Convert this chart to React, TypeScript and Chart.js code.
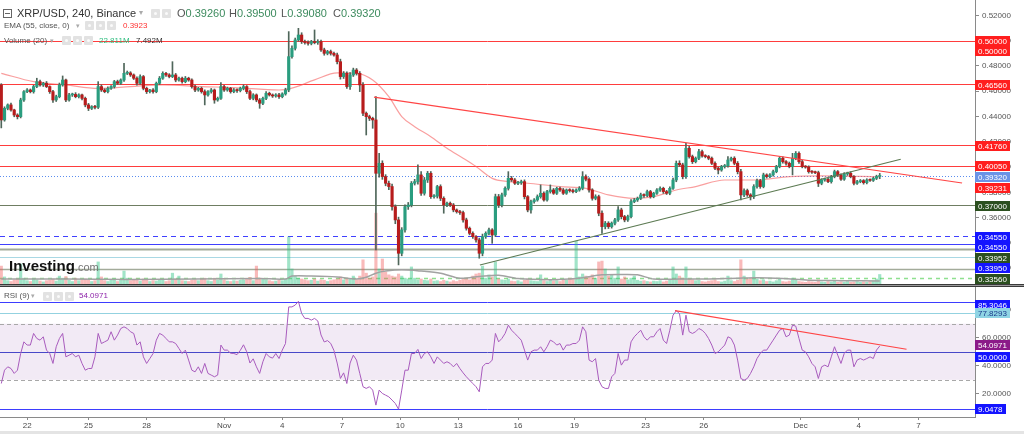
import React, { useEffect, useRef } from 'react';
import { Chart, registerables } from 'chart.js';

Chart.register(...registerables);

const FONT = 'Arial, "Liberation Sans", Helvetica, sans-serif';

// ---------------- data (prices in 1/10000 USD, 4h candles) ----------------
const FIRST_OPEN = 4650;
const closes = [
  4373,4465,4492,4452,4412,4399,4531,4597,4610,4597,
  4637,4676,4650,4663,4637,4597,4531,4557,4650,4689,
  4531,4571,4575,4557,4571,4544,4492,4465,4478,4473,
  4637,4610,4597,4623,4637,4676,4663,4689,4742,4745,
  4729,4703,4663,4716,4623,4597,4610,4597,4663,4703,
  4742,4729,4716,4729,4689,4703,4676,4703,4689,4637,
  4610,4623,4597,4571,4597,4610,4531,4544,4637,4610,
  4623,4597,4610,4605,4623,4637,4597,4544,4571,4531,
  4505,4544,4584,4571,4563,4571,4557,4579,4610,4874,
  4940,5006,5045,4993,4985,4979,4993,4985,4993,4927,
  4900,4914,4900,4887,4834,4716,4742,4637,4729,4768,
  4742,4650,4426,4399,4386,4373,3951,4030,3925,3872,
  3846,3687,3582,3318,3503,3687,3700,3872,3885,3938,
  3793,3898,3951,3766,3770,3846,3753,3700,3714,3700,
  3661,3648,3640,3582,3516,3476,3450,3424,3318,3450,
  3476,3503,3463,3766,3700,3780,3832,3911,3898,3872,
  3877,3885,3766,3661,3727,3740,3766,3793,3740,3806,
  3819,3793,3832,3819,3793,3819,3814,3806,3819,3832,
  3925,3904,3819,3753,3766,3635,3529,3556,3529,3556,
  3582,3661,3608,3582,3608,3727,3740,3753,3780,3775,
  3806,3766,3793,3819,3832,3806,3793,3832,3898,4030,
  4017,3925,4149,4083,4043,4070,4122,4088,4083,4070,
  4030,3991,3977,4004,4009,4056,4070,4030,3964,3780,
  3814,3780,3766,3846,3893,3846,3938,3925,3938,3964,
  4004,4070,4043,4030,4004,4070,4109,4043,4004,4000,
  3964,3960,3956,3872,3898,3904,3885,3925,3964,3938,
  3904,3946,3951,3925,3872,3885,3893,3877,3898,3895,
  3911,3926,3932,
];
const wickUp = [
  10,12,8,15,6,10,14,9,12,8,
  10,27,12,8,14,6,10,12,15,32,
  8,12,10,14,9,7,10,12,8,10,
  39,14,10,12,8,10,12,9,79,15,
  10,8,12,14,9,10,6,12,10,14,
  12,8,10,105,12,9,10,14,8,10,
  12,8,10,14,9,12,8,10,31,9,
  10,8,12,9,10,14,8,12,10,8,
  12,10,14,9,8,10,12,9,14,198,
  20,15,53,18,12,14,10,92,15,12,
  14,10,12,9,15,20,14,12,18,15,
  12,14,18,10,12,9,184,79,20,15,
  18,20,14,22,18,15,20,14,18,79,
  26,20,15,14,12,10,14,12,9,10,
  12,8,10,12,14,10,12,9,14,20,
  12,14,10,20,18,14,12,53,15,12,
  10,12,14,9,12,10,14,66,12,10,
  40,12,9,10,12,8,10,12,9,14,
  39,14,12,10,15,12,18,14,12,10,
  12,26,14,10,12,15,12,10,14,9,
  12,10,8,10,12,9,10,12,15,18,
  20,14,39,15,12,10,19,12,10,9,
  10,12,8,10,12,27,10,12,14,18,
  14,12,10,15,12,10,14,9,10,12,
  10,13,12,9,10,39,14,12,10,8,
  10,9,8,12,10,9,8,10,12,9,
  8,10,9,12,8,10,9,8,10,9,
  8,10,18,
];
const wickDn = [
  63,10,12,9,14,18,10,12,8,10,
  12,9,10,12,8,14,20,12,9,10,
  14,10,12,9,10,12,15,18,10,12,
  10,12,9,10,8,12,10,9,12,10,
  12,10,14,9,12,15,10,12,9,10,
  9,12,10,8,14,10,12,9,10,12,
  14,10,12,79,10,12,26,10,9,12,
  10,12,9,14,10,12,15,10,12,14,
  40,12,10,9,12,10,14,9,10,14,
  12,14,10,15,12,14,12,10,14,12,
  15,12,14,10,18,20,15,14,22,12,
  14,53,20,145,18,66,607,30,22,20,
  25,28,30,92,20,18,22,15,14,20,
  18,15,20,14,12,15,18,65,14,12,
  15,12,14,18,15,12,14,18,39,20,
  14,12,66,12,20,15,12,14,12,10,
  12,14,18,15,26,12,10,12,9,10,
  12,9,10,12,10,9,12,10,8,10,
  12,14,18,15,12,20,53,18,15,12,
  14,12,18,15,12,10,9,12,10,14,
  10,12,9,10,12,14,10,12,9,14,
  12,18,14,12,15,10,12,9,10,12,
  10,12,31,10,12,9,10,12,18,40,
  14,12,26,15,12,14,10,12,9,10,
  9,10,12,14,10,66,12,14,10,9,
  12,10,9,26,12,10,9,12,10,12,
  10,9,12,10,14,10,9,12,10,8,
  9,10,18,
];
// volume, millions
const volumes = [
  43,17,8,6,10,12,48,14,8,6,
  12,10,7,5,8,9,12,7,19,14,
  18,9,6,14,8,10,12,9,6,8,
  53,17,8,6,10,12,6,9,31,14,
  8,10,12,7,12,9,6,8,7,10,
  9,6,8,26,12,19,8,7,6,9,
  10,8,12,14,8,6,14,9,24,10,
  7,6,8,7,9,10,12,16,8,43,
  14,12,10,8,6,7,9,8,12,113,
  36,19,14,12,10,8,9,12,7,10,
  9,6,8,10,12,17,10,14,12,19,
  10,19,58,26,14,17,170,36,60,29,
  22,19,17,24,19,14,12,41,14,10,
  12,9,8,12,7,8,6,9,7,5,
  8,6,9,12,14,10,19,24,26,43,
  14,22,17,53,12,10,9,12,7,6,
  8,5,9,12,8,7,6,22,8,6,
  9,7,8,6,10,9,14,12,103,17,
  24,19,17,22,14,53,55,36,19,22,
  14,41,12,17,10,14,19,9,7,8,
  6,5,7,6,8,5,7,9,41,24,
  19,14,41,12,10,8,9,6,5,7,
  8,10,6,5,7,19,8,6,9,58,
  19,12,14,31,12,8,10,6,7,5,
  8,12,6,5,7,14,9,6,5,4,
  6,5,4,10,5,4,6,5,7,4,
  5,4,6,4,5,6,4,5,4,6,
  7,12,22.8,
];
// [candle index, value]
const volumeMA = [
  [0,12],[20,12],[40,11],[60,12],[80,13],[88,12],[90,19],[96,19],[104,17],[110,12],
  [113,16],[116,26],[119,31],[124,34],[130,31],[136,26],[142,14],[148,18],[154,21],[160,13],
  [170,10],[176,12],[180,15],[186,22],[192,23],[197,22],[202,12],[210,12],[218,12],[228,14],
  [234,15],[242,13],[250,9],[260,8],[272,7.5],
];
const ema55 = [
  [0,4742],[10,4676],[20,4650],[30,4623],[40,4637],[50,4650],[62,4637],[72,4629],[86,4610],[90,4625],
  [97,4690],[104,4745],[110,4742],[115,4689],[120,4557],[124,4400],[128,4320],[133,4241],[138,4149],[143,4070],
  [147,4004],[152,3911],[157,3885],[163,3872],[173,3846],[181,3832],[188,3780],[196,3753],[202,3766],[209,3819],
  [215,3846],[224,3898],[234,3898],[244,3925],[254,3930],[272,3923],
];
const rsi9 = [
  27.4,36.9,39.3,38.1,34.6,36.9,48.8,57.1,54.8,54.8,
  63.1,59.5,58.3,60.7,51.2,48.8,41.7,53.6,59.5,63.1,
  46.4,47.6,48.8,46.4,47.6,41.7,36.9,38.1,38.1,46.4,
  63.1,55.9,57.1,58.3,64.3,58.3,61.9,66.6,67.8,66.6,
  64.3,63.1,54.8,57.1,46.4,41.7,45.2,48.8,58.3,63.1,
  61.9,59.5,57.1,57.1,55.9,52.4,48.8,51.2,44.1,36.9,
  35.7,39.3,34.6,41.7,34.6,33.4,32.2,33.4,54.8,51.2,
  51.2,49.0,48.8,48.0,51.0,55.0,50.0,42.0,45.0,39.3,
  34.6,42.9,48.8,46.4,45.5,48.8,45.2,51.2,55.9,82.0,
  82.0,83.3,86.0,77.3,73.8,73.8,72.6,73.8,72.0,62.0,
  57.0,58.0,56.0,51.0,42.0,31.0,35.0,27.4,42.0,47.6,
  44.1,34.6,25.1,23.9,25.1,22.7,12.0,22.7,20.3,19.1,
  17.9,15.6,13.2,9.1,22.7,36.9,36.9,48.8,48.8,51.7,
  45.2,48.8,50.0,46.4,41.7,46.4,44.1,41.7,42.9,41.7,
  39.3,41.7,38.1,35.0,32.2,29.8,27.4,25.1,21.5,39.3,
  41.7,41.7,44.1,63.1,57.1,59.5,63.1,69.0,65.4,63.1,
  60.7,58.3,51.2,44.1,50.0,51.2,51.2,53.6,50.0,53.6,
  58.3,57.1,54.8,55.9,51.2,54.8,54.8,55.9,55.9,58.3,
  67.8,64.3,44.1,42.9,45.2,29.8,25.1,23.9,23.9,32.2,
  34.6,48.8,40.5,44.1,44.1,57.1,60.7,63.1,65.4,60.7,
  58.3,60.7,60.7,64.3,66.6,58.3,55.9,65.4,76.1,79.2,
  77.3,61.9,76.1,64.3,63.1,64.3,66.6,65.4,63.1,59.5,
  54.8,48.8,50.0,52.4,54.8,60.7,59.5,54.8,44.1,31.0,
  29.8,31.0,34.6,39.3,45.2,48.8,51.2,51.2,54.8,58.3,
  61.9,65.4,66.6,60.7,61.9,69.0,68.3,59.5,51.2,50.0,
  46.4,41.7,39.3,31.0,39.3,40.5,39.3,46.4,53.6,47.6,
  41.7,48.8,51.2,51.2,39.3,44.1,45.2,44.1,45.2,46.4,
  45.2,51.2,54.1,
];

const priceTicks = [0.52, 0.5, 0.48, 0.46, 0.44, 0.42, 0.4, 0.38, 0.36, 0.34, 0.32];
const rsiTicks = [20, 40, 60, 80];
const dateTickIdx = [8, 27, 45, 69, 87, 105.5, 123.5, 141.5, 160, 177.5, 199.5, 217.5, 247.5, 265.5, 284];
const dateTickLabels = ['22', '25', '28', 'Nov', '4', '7', '10', '13', '16', '19', '23', '26', 'Dec', '4', '7'];

const resistanceLine = [[115.4, 0.4554], [297.5, 0.3874]];
const supportLine = [[148.2, 0.3225], [278.5, 0.4062]];
const rsiTrendLine = [[208.6, 79.3], [280.3, 51.8]];

const priceLevels = [
  { v: 0.5, c: '#ff3d3d', w: 1, d: [] as number[] },
  { v: 0.4656, c: '#ff3d3d', w: 1, d: [] },
  { v: 0.4176, c: '#ff3d3d', w: 1, d: [] },
  { v: 0.4005, c: '#ff3d3d', w: 1, d: [] },
  { v: 0.3932, c: '#5b8def', w: 1, d: [1, 2] },
  { v: 0.37, c: '#6f7d62', w: 1, d: [] },
  { v: 0.3455, c: '#4040ff', w: 1, d: [5, 4] },
  { v: 0.3391, c: '#4040ff', w: 1, d: [] },
  { v: 0.3352, c: '#a3ab9a', w: 2, d: [] },
  { v: 0.3289, c: '#a9d8e4', w: 1, d: [] },
  { v: 0.3194, c: '#a3ab9a', w: 1.5, d: [] },
  { v: 0.3125, c: '#8fe08f', w: 1.5, d: [4, 4] },
];
const priceTags = [
  { t: '0.50000', at: 0.5, bg: '#ff1e1e', fg: '#fff' },
  { t: '0.50000', at: 0.4917, bg: '#ff1e1e', fg: '#fff' },
  { t: '0.46560', at: 0.4652, bg: '#ff1e1e', fg: '#fff' },
  { t: '0.41760', at: 0.4168, bg: '#ff1e1e', fg: '#fff' },
  { t: '0.40050', at: 0.4005, bg: '#ff1e1e', fg: '#fff' },
  { t: '0.39320', at: 0.3918, bg: '#6a93e6', fg: '#fff' },
  { t: '0.39231', at: 0.3831, bg: '#ff1e1e', fg: '#fff' },
  { t: '0.37000', at: 0.3694, bg: '#2b4f1f', fg: '#fff' },
  { t: '0.34550', at: 0.3447, bg: '#1414ff', fg: '#fff' },
  { t: '0.34550', at: 0.3365, bg: '#1414ff', fg: '#fff' },
  { t: '0.33952', at: 0.3281, bg: '#2b4f1f', fg: '#fff' },
  { t: '0.33950', at: 0.32, bg: '#1414ff', fg: '#fff' },
  { t: '0.33560', at: 0.3116, bg: '#2b4f1f', fg: '#fff' },
];
const rsiLevels = [
  { v: 85.3046, c: '#3d3dff', w: 1, d: [] as number[] },
  { v: 77.8293, c: '#93d2e0', w: 1, d: [] },
  { v: 70, c: '#a8a8a8', w: 1, d: [4, 3] },
  { v: 30, c: '#a8a8a8', w: 1, d: [4, 3] },
  { v: 50, c: '#4848c8', w: 1, d: [] },
  { v: 9.0478, c: '#3d3dff', w: 1, d: [] },
];
const rsiTags = [
  { t: '85.3046', at: 83.6, bg: '#1414ff', fg: '#fff' },
  { t: '77.8293', at: 77.8, bg: '#8fd4e4', fg: '#1a3a8a' },
  { t: '54.0971', at: 54.7, bg: '#8b1a89', fg: '#fff' },
  { t: '50.0000', at: 46.3, bg: '#1414ff', fg: '#fff' },
  { t: '9.0478', at: 9.1, bg: '#1414ff', fg: '#fff' },
];

// ---------------- layout constants ----------------
const X_MIN = -0.4;
const X_MAX = 301.5;
const P_MIN = 0.3075;
const P_MAX = 0.5322;
const RSI_MIN = 3.53;
const RSI_MAX = 96.19;
const VOL_MAX = 681.6;
const AXIS_W = 49;
const GREEN = '#2a9d7f';
const RED = '#b71c1c';
const WICK = '#4f665a';

function levelsPlugin(levels: any[], band?: [number, number]) {
  return {
    id: 'levels',
    beforeDatasetsDraw(chart: any) {
      const { ctx, chartArea, scales } = chart;
      const y = scales.y;
      ctx.save();
      if (band) {
        const y1 = y.getPixelForValue(band[0]);
        const y2 = y.getPixelForValue(band[1]);
        ctx.fillStyle = 'rgba(156, 90, 180, 0.13)';
        ctx.fillRect(chartArea.left, y1, chartArea.right - chartArea.left, y2 - y1);
      }
      for (const l of levels) {
        const py = Math.round(y.getPixelForValue(l.v)) + 0.5;
        ctx.strokeStyle = l.c;
        ctx.lineWidth = l.w;
        ctx.setLineDash(l.d);
        ctx.beginPath();
        ctx.moveTo(chartArea.left, py);
        ctx.lineTo(chartArea.right, py);
        ctx.stroke();
      }
      ctx.restore();
    },
  };
}

function tagsPlugin(tags: any[], extra?: (chart: any) => void) {
  return {
    id: 'tags',
    afterDraw(chart: any) {
      const { ctx, chartArea, scales } = chart;
      const y = scales.y;
      ctx.save();
      ctx.font = `8px ${FONT}`;
      ctx.textBaseline = 'middle';
      ctx.textAlign = 'left';
      for (const t of tags) {
        const py = Math.round(y.getPixelForValue(t.at));
        const w = Math.ceil(ctx.measureText(t.t).width) + 6;
        ctx.fillStyle = t.bg;
        ctx.fillRect(chartArea.right, py - 5, w, 10);
        ctx.fillStyle = t.fg;
        ctx.fillText(t.t, chartArea.right + 3, py + 0.5);
      }
      if (extra) extra(chart);
      ctx.restore();
    },
  };
}

function Icons({ left, top, n }: { left: number; top: number; n: number }) {
  const items = [];
  for (let k = 0; k < n; k++) {
    items.push(
      <div
        key={k}
        style={{
          position: 'absolute',
          left: left + k * 11,
          top,
          width: 9,
          height: 9,
          background: '#e2e2e2',
          borderRadius: 1,
        }}
      >
        <div style={{ position: 'absolute', left: 3, top: 3, width: 3, height: 3, background: '#fafafa', borderRadius: 2 }} />
      </div>
    );
  }
  return <>{items}</>;
}

function Txt({ left, top, size, color, children, weight }: any) {
  return (
    <div
      style={{
        position: 'absolute',
        left,
        top,
        fontSize: size,
        lineHeight: `${size}px`,
        color,
        fontWeight: weight || 'normal',
        whiteSpace: 'nowrap',
        fontFamily: FONT,
      }}
    >
      {children}
    </div>
  );
}

export default function App() {
  const mainRef = useRef<HTMLCanvasElement>(null);
  const rsiRef = useRef<HTMLCanvasElement>(null);

  useEffect(() => {
    Chart.defaults.font.family = FONT;
    const opens = closes.map((c, i) => (i === 0 ? FIRST_OPEN : closes[i - 1]));
    const bodies = closes.map((c, i) => ({ x: i, y: [opens[i] / 1e4, c / 1e4] }));
    const wicks = closes.map((c, i) => ({
      x: i,
      y: [(Math.min(opens[i], c) - wickDn[i]) / 1e4, (Math.max(opens[i], c) + wickUp[i]) / 1e4],
    }));
    const upDown = closes.map((c, i) => c >= opens[i]);
    const vols = volumes.map((v, i) => ({ x: i, y: v }));

    const main = new Chart(mainRef.current as HTMLCanvasElement, {
      type: 'bar',
      data: {
        datasets: [
          {
            type: 'bar',
            data: vols as any,
            yAxisID: 'yVol',
            grouped: false,
            barThickness: 2.5,
            backgroundColor: upDown.map((u) => (u ? 'rgba(46,196,132,0.45)' : 'rgba(240,90,90,0.42)')),
            order: 10,
          } as any,
          {
            type: 'line',
            data: volumeMA.map(([x, y]) => ({ x, y })),
            yAxisID: 'yVol',
            borderColor: '#a2a2a2',
            borderWidth: 1.5,
            pointRadius: 0,
            tension: 0.3,
            order: 9,
          },
          {
            type: 'line',
            data: ema55.map(([x, y]) => ({ x, y: y / 1e4 })),
            yAxisID: 'y',
            borderColor: 'rgba(245,95,95,0.6)',
            borderWidth: 1.2,
            pointRadius: 0,
            cubicInterpolationMode: 'monotone',
            order: 8,
          },
          {
            type: 'bar',
            data: wicks as any,
            yAxisID: 'y',
            grouped: false,
            barThickness: 1,
            backgroundColor: WICK,
            order: 6,
          } as any,
          {
            type: 'bar',
            data: bodies as any,
            yAxisID: 'y',
            grouped: false,
            barThickness: 2.5,
            minBarLength: 1,
            backgroundColor: upDown.map((u) => (u ? GREEN : RED)),
            order: 5,
          } as any,
          {
            type: 'line',
            data: resistanceLine.map(([x, y]) => ({ x, y })),
            yAxisID: 'y',
            borderColor: '#ff4545',
            borderWidth: 1.2,
            pointRadius: 0,
            order: 1,
          },
          {
            type: 'line',
            data: supportLine.map(([x, y]) => ({ x, y })),
            yAxisID: 'y',
            borderColor: '#5c7a52',
            borderWidth: 1.2,
            pointRadius: 0,
            order: 1,
          },
        ],
      },
      options: {
        animation: false,
        responsive: false,
        maintainAspectRatio: false,
        events: [],
        layout: { padding: { left: 0, right: 0, top: 0, bottom: 3 } },
        plugins: { legend: { display: false }, tooltip: { enabled: false } },
        scales: {
          x: { type: 'linear', min: X_MIN, max: X_MAX, display: false, offset: false, grid: { offset: false } },
          y: {
            type: 'linear',
            position: 'right',
            min: P_MIN,
            max: P_MAX,
            afterBuildTicks: (s: any) => {
              s.ticks = priceTicks.map((v) => ({ value: v }));
            },
            afterFit: (s: any) => {
              s.width = AXIS_W;
              s.paddingTop = 0;
              s.paddingBottom = 0;
            },
            ticks: {
              font: { size: 8, family: FONT },
              color: '#555',
              padding: 3,
              callback: (v: any) => Number(v).toFixed(5),
            },
            grid: { drawOnChartArea: false, tickLength: 4, color: '#8a8a8a' },
            border: { color: '#8a8a8a' },
          },
          yVol: { type: 'linear', display: false, min: 0, max: VOL_MAX },
        } as any,
      },
      plugins: [
        levelsPlugin(priceLevels),
        tagsPlugin(priceTags, (chart: any) => {
          const { ctx, width } = chart;
          ctx.fillStyle = '#3a3a3a';
          ctx.fillRect(0, 284, width, 1);
          ctx.fillStyle = '#9a9a9a';
          ctx.fillRect(0, 285, width, 1);
          ctx.fillStyle = '#3a3a3a';
          ctx.fillRect(0, 286, width, 1);
        }),
      ],
    });

    const rsiChart = new Chart(rsiRef.current as HTMLCanvasElement, {
      type: 'line',
      data: {
        datasets: [
          {
            data: rsi9.map((v, i) => ({ x: i, y: v })),
            borderColor: '#a85bbd',
            borderWidth: 1,
            pointRadius: 0,
            tension: 0,
            order: 2,
          },
          {
            data: rsiTrendLine.map(([x, y]) => ({ x, y })),
            borderColor: '#ff4545',
            borderWidth: 1.2,
            pointRadius: 0,
            order: 1,
          },
        ],
      },
      options: {
        animation: false,
        responsive: false,
        maintainAspectRatio: false,
        events: [],
        layout: { padding: 0 },
        plugins: { legend: { display: false }, tooltip: { enabled: false } },
        scales: {
          x: {
            type: 'linear',
            min: X_MIN,
            max: X_MAX,
            offset: false,
            position: 'bottom',
            afterBuildTicks: (s: any) => {
              s.ticks = dateTickIdx.map((v) => ({ value: v }));
            },
            afterFit: (s: any) => {
              s.height = 17;
              s.paddingLeft = 0;
              s.paddingRight = 0;
            },
            ticks: {
              autoSkip: false,
              maxRotation: 0,
              padding: 1,
              font: { size: 8, family: FONT },
              color: '#4a4a4a',
              callback: (_v: any, idx: number) => dateTickLabels[idx],
            },
            grid: { drawOnChartArea: false, tickLength: 3, color: '#8a8a8a' },
            border: { color: '#8a8a8a' },
          },
          y: {
            type: 'linear',
            position: 'right',
            min: RSI_MIN,
            max: RSI_MAX,
            afterBuildTicks: (s: any) => {
              s.ticks = rsiTicks.map((v) => ({ value: v }));
            },
            afterFit: (s: any) => {
              s.width = AXIS_W;
              s.paddingTop = 0;
              s.paddingBottom = 0;
            },
            ticks: {
              font: { size: 8, family: FONT },
              color: '#555',
              padding: 3,
              callback: (v: any) => Number(v).toFixed(4),
            },
            grid: { drawOnChartArea: false, tickLength: 4, color: '#8a8a8a' },
            border: { color: '#8a8a8a' },
          },
        } as any,
      },
      plugins: [
        levelsPlugin(rsiLevels, [70, 30]),
        tagsPlugin(rsiTags, (chart: any) => {
          const { ctx, width, height } = chart;
          ctx.fillStyle = '#e4e4e4';
          ctx.fillRect(0, height - 3, width, 3);
        }),
      ],
    });

    return () => {
      main.destroy();
      rsiChart.destroy();
    };
  }, []);

  return (
    <div
      style={{
        position: 'fixed',
        left: 0,
        top: 0,
        width: 1024,
        height: 434,
        background: '#fff',
        overflow: 'hidden',
        fontFamily: FONT,
      }}
    >
      <canvas ref={mainRef} width={1024} height={287} style={{ position: 'absolute', left: 0, top: 0, width: 1024, height: 287 }} />
      <canvas ref={rsiRef} width={1024} height={147} style={{ position: 'absolute', left: 0, top: 287, width: 1024, height: 147 }} />

      {/* main legend */}
      <div style={{ position: 'absolute', left: 3, top: 9, width: 7, height: 7, border: '1px solid #666' }}>
        <div style={{ position: 'absolute', left: 1, top: 3, width: 5, height: 1, background: '#666' }} />
      </div>
      <Txt left={17} top={7.5} size={11} color="#333">XRP/USD, 240, Binance</Txt>
      <Txt left={139} top={9} size={8} color="#aaa">▾</Txt>
      <Icons left={151} top={8.5} n={2} />
      <Txt left={177} top={7.5} size={11} color="#555">
        O<span style={{ color: '#3d8b5e' }}>0.39260</span>
      </Txt>
      <Txt left={229} top={7.5} size={11} color="#555">
        H<span style={{ color: '#3d8b5e' }}>0.39500</span>
      </Txt>
      <Txt left={281} top={7.5} size={11} color="#555">
        L<span style={{ color: '#3d8b5e' }}>0.39080</span>
      </Txt>
      <Txt left={333} top={7.5} size={11} color="#555">
        C<span style={{ color: '#3d8b5e' }}>0.39320</span>
      </Txt>

      <Txt left={4} top={21.5} size={8} color="#555">EMA (55, close, 0)</Txt>
      <Txt left={76} top={21.5} size={7} color="#aaa">▾</Txt>
      <Icons left={85} top={21} n={3} />
      <Txt left={123} top={21.5} size={8} color="#ff3030">0.3923</Txt>

      <Txt left={4} top={36.5} size={8} color="#555">Volume (20)</Txt>
      <Txt left={50} top={36.5} size={7} color="#aaa">▾</Txt>
      <Icons left={62} top={36} n={3} />
      <Txt left={99} top={36.5} size={8} color="#2bbd7e">22.811M</Txt>
      <Txt left={136} top={36.5} size={8} color="#333">7.492M</Txt>

      {/* watermark */}
      <Txt left={9} top={257.5} size={15} color="#111" weight="bold">
        Investing<span style={{ fontSize: 11, fontWeight: 'normal', color: '#777' }}>.com</span>
      </Txt>

      {/* RSI legend */}
      <Txt left={4} top={292} size={8} color="#555">RSI (9)</Txt>
      <Txt left={31} top={292} size={7} color="#aaa">▾</Txt>
      <Icons left={43} top={291.5} n={3} />
      <Txt left={79} top={292} size={8} color="#8e24aa">54.0971</Txt>
    </div>
  );
}
